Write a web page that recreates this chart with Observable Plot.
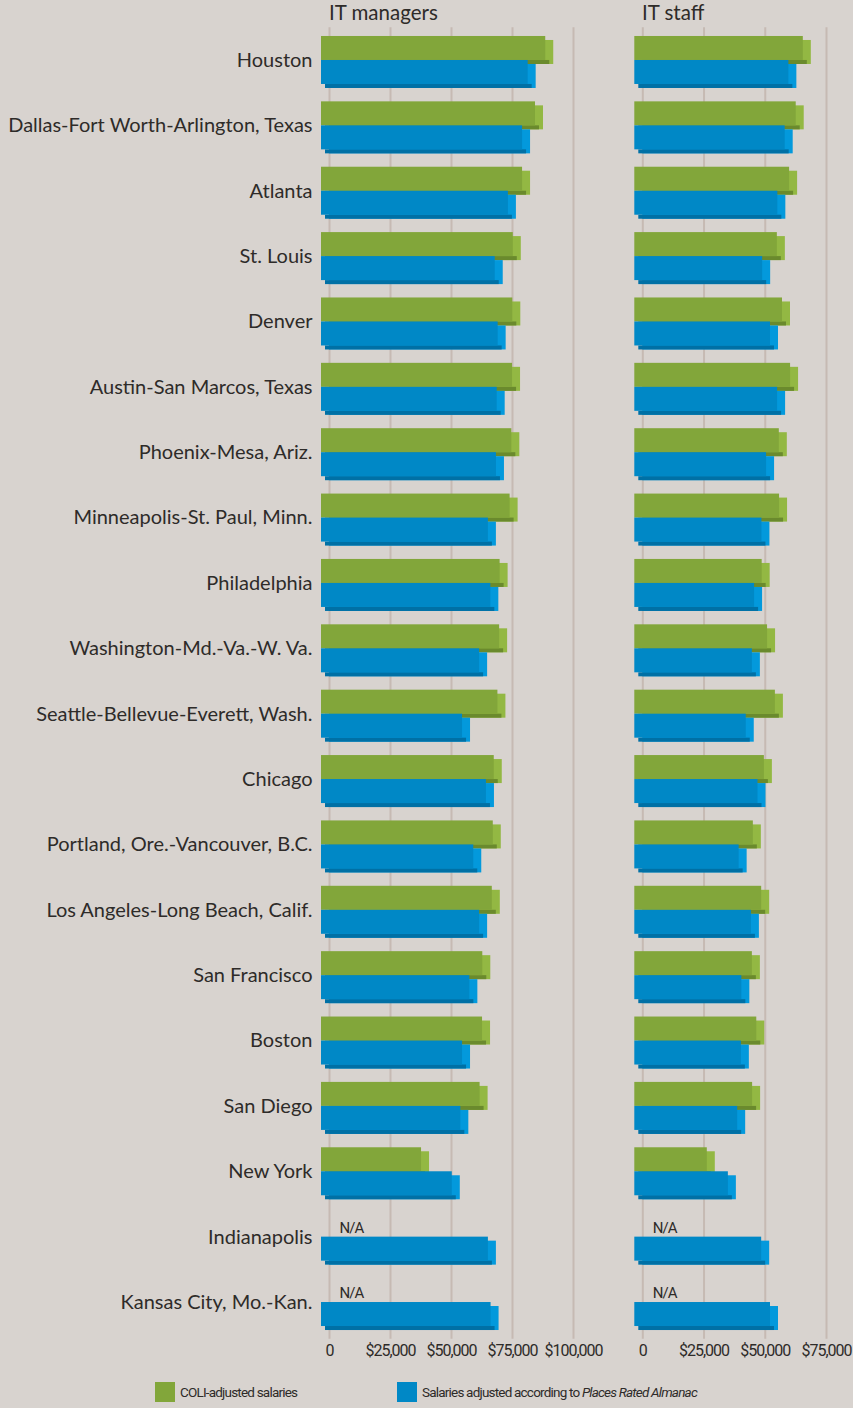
<!DOCTYPE html>
<html>
<head>
<meta charset="utf-8">
<script src="https://cdn.jsdelivr.net/npm/d3@7"></script>
<script src="https://cdn.jsdelivr.net/npm/@observablehq/plot@0.6"></script>
<style>
  html, body { margin: 0; padding: 0; background: #d8d3cf; }
  #wrap { position: relative; width: 853px; height: 1408px; background: #d8d3cf; overflow: hidden; }
  #left, #right { position: absolute; top: 0; }
  #left { left: 0; }
  #right { left: 620px; }
  svg { overflow: visible; }
  .head { position: absolute; top: 0px; font-family: Lato, "Open Sans", sans-serif; font-size: 20.5px; color: #2e2b29; }
  .legend { position: absolute; top: 1382px; height: 20px; font-family: Roboto, "Noto Sans", sans-serif; font-size: 13.5px; letter-spacing: -0.8px; color: #2e2b29; display: flex; align-items: center; }
  .sw { display: inline-block; width: 20px; height: 20px; margin-right: 5px; }
  .tick text { letter-spacing: -1px; }
</style>
</head>
<body>
<div id="wrap">
  <div id="left"></div>
  <div id="right"></div>
  <div class="head" style="left:329px">IT managers</div>
  <div class="head" style="left:642px">IT staff</div>
  <div class="legend" style="left:155px"><span class="sw" style="background:#82a63a"></span>COLI-adjusted salaries</div>
  <div class="legend" style="left:397px"><span class="sw" style="background:#0088c6"></span>Salaries adjusted according to&nbsp;<i>Places Rated Almanac</i></div>
</div>
<script>
const cities = [
  "Houston",
  "Dallas-Fort Worth-Arlington, Texas",
  "Atlanta",
  "St. Louis",
  "Denver",
  "Austin-San Marcos, Texas",
  "Phoenix-Mesa, Ariz.",
  "Minneapolis-St. Paul, Minn.",
  "Philadelphia",
  "Washington-Md.-Va.-W. Va.",
  "Seattle-Bellevue-Everett, Wash.",
  "Chicago",
  "Portland, Ore.-Vancouver, B.C.",
  "Los Angeles-Long Beach, Calif.",
  "San Francisco",
  "Boston",
  "San Diego",
  "New York",
  "Indianapolis",
  "Kansas City, Mo.-Kan."
];
const managersColi   = [91900, 87700, 82400, 78600, 78400, 78300, 78000, 77300, 73200, 73000, 72300, 70800, 70400, 70000, 66100, 66000, 65000, 41000, null, null];
const managersPlaces = [84700, 82400, 76600, 71200, 72400, 72000, 71700, 68400, 69400, 64800, 57800, 67600, 62400, 64800, 60800, 57800, 57100, 53600, 68400, 69500];
const staffColi      = [68800, 65900, 63200, 58200, 60300, 63600, 59000, 59100, 52000, 54200, 57400, 52900, 48400, 51800, 48000, 49800, 48100, 29600, null, null];
const staffPlaces    = [62900, 61400, 58400, 52200, 55400, 58300, 53800, 51900, 48900, 48000, 45500, 50300, 42600, 47600, 43700, 43500, 42000, 38200, 51800, 55400];
const managerTicks = [0, 25000, 50000, 75000, 100000];
const staffTicks   = [0, 25000, 50000, 75000];

const green = {front: "#82a63a", side: "#93b843", bottom: "#6a8a2d"};
const blue  = {front: "#0088c6", side: "#0399dc", bottom: "#0070a5"};
const grid = "#c6bab3";
const ink = "#2e2b29";

const H = 1372, frameTop = 27.3, frameBottom = 1334.7;
const band = (frameBottom - frameTop) / cities.length;
const half = band / 2;
const face = 24, depthX = 8, depthY = 4;

const fmt = d => d === 0 ? "0" : "$" + d3.format(",")(d);

function panel(coli, places, ticks, opts) {
  const rows = cities.map((city, i) => ({city, coli: coli[i], places: places[i]}));
  const withColi = rows.filter(d => d.coli != null);
  const noColi = rows.filter(d => d.coli == null);
  const gTop = half - face, gBot = half;            // green front face insets
  const bTop = half, bBot = half - face;            // blue front face insets
  const marks = [
    Plot.ruleX(ticks, {stroke: grid, strokeWidth: 2, insetTop: 0, insetBottom: -4}),
    // green bar: back/side, bottom, front
    Plot.barX(withColi, {x: "coli", y: "city", insetTop: gTop, insetBottom: gBot, dy: depthY, fill: green.side}),
    Plot.barX(withColi, {x: "coli", y: "city", insetTop: half, insetBottom: half - depthY, dx: -depthX / 2, fill: green.bottom}),
    Plot.barX(withColi, {x: "coli", y: "city", insetTop: gTop, insetBottom: gBot, dx: -depthX, fill: green.front}),
    // blue bar
    Plot.barX(rows, {x: "places", y: "city", insetTop: bTop, insetBottom: bBot, dy: depthY, fill: blue.side}),
    Plot.barX(rows, {x: "places", y: "city", insetTop: half + face, insetBottom: half - face - depthY, dx: -depthX / 2, fill: blue.bottom}),
    Plot.barX(rows, {x: "places", y: "city", insetTop: bTop, insetBottom: bBot, dx: -depthX, fill: blue.front}),
    Plot.text(noColi, {x: 0, y: "city", text: () => "N/A", dx: 10, dy: -9, textAnchor: "start",
      fontFamily: "Roboto, sans-serif", fontSize: 15, fill: ink, className: "tick"}),
    Plot.axisX({ticks, tickSize: 0, tickPadding: 9, tickFormat: fmt, fontSize: 16, label: null,
      fontFamily: "Roboto, sans-serif", fill: ink, className: "tick"})
  ];
  if (opts.yAxis) marks.push(Plot.axisY({tickSize: 0, tickPadding: 17, fontSize: 20, label: null,
    fontFamily: "Lato, 'Open Sans', sans-serif", fill: ink}));
  return Plot.plot({
    width: opts.width,
    height: H,
    marginLeft: opts.marginLeft,
    marginRight: opts.marginRight,
    marginTop: frameTop,
    marginBottom: H - frameBottom,
    style: {background: "transparent", color: ink, overflow: "visible"},
    x: {domain: opts.domain, axis: null},
    y: {domain: cities, padding: 0, round: false, axis: null},
    marks
  });
}

document.getElementById("left").append(panel(managersColi, managersPlaces, managerTicks,
  {width: 620, marginLeft: 329, marginRight: 47, domain: [0, 100000], yAxis: true}));
document.getElementById("right").append(panel(staffColi, staffPlaces, staffTicks,
  {width: 233, marginLeft: 22.3, marginRight: 27, domain: [0, 75000], yAxis: false}));
</script>
</body>
</html>
